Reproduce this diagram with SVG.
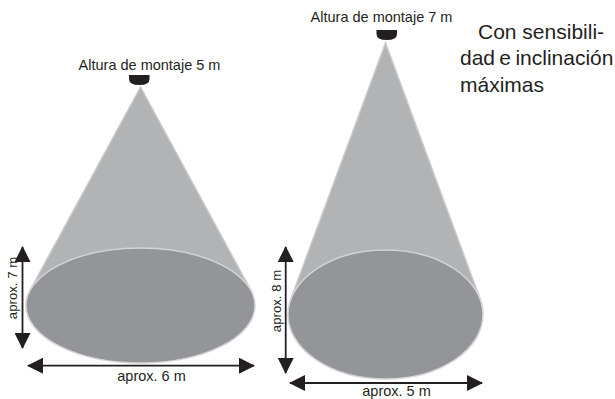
<svg xmlns="http://www.w3.org/2000/svg" width="615" height="399" viewBox="0 0 615 399">
<defs>
<marker id="ah" markerUnits="userSpaceOnUse" markerWidth="16" markerHeight="16" refX="15" refY="8" orient="auto-start-reverse" viewBox="0 0 16 16"><path d="M0 0L16 8L0 16Z" fill="#231f20"/></marker>
</defs>
<style>
.t{font-family:"Liberation Sans",Arial,sans-serif;font-size:14.500px;fill:#231f20}
.v{font-family:"Liberation Sans",Arial,sans-serif;font-size:13.200px;fill:#231f20}
.h{font-family:"Liberation Sans",Arial,sans-serif;font-size:21px;fill:#231f20}
.cone{fill:#b2b3b5;stroke:#c9cacb;stroke-width:1.5}
.base{fill:#939598;stroke:#d4d4d5;stroke-width:1.5}
.dev{fill:#231f20}
.dim{stroke:#231f20;stroke-width:1.8;fill:none;marker-start:url(#ah);marker-end:url(#ah)}
</style>
<rect width="615" height="399" fill="#fff"/>
<g id="cone-5m">
<path class="cone" d="M140.500 87L30 290.500L251 290.500Z"/>
<ellipse class="base" cx="140.500" cy="305.500" rx="114.500" ry="57.500"/>
<path class="dev" d="M129 75H149.500V79Q149.500 85 139.500 85Q129 85 129 79Z"/>
<text class="t" x="149.500" y="70" text-anchor="middle">Altura de montaje 5 m</text>
</g>
<g id="cone-7m">
<path class="cone" d="M385.500 43L290.800 299.200L480.200 299.200Z"/>
<ellipse class="base" cx="385.500" cy="314.500" rx="97.500" ry="64.500"/>
<path class="dev" d="M376.500 30H397V34Q397 40 386.500 40Q376.500 40 376.500 34Z"/>
<text class="t" x="381.500" y="22" text-anchor="middle">Altura de montaje 7 m</text>
</g>
<g id="connectors">
<line class="dim" x1="22.500" y1="247" x2="22.500" y2="348"/>
<line class="dim" x1="28" y1="365.700" x2="254" y2="365.700"/>
<line class="dim" x1="285.700" y1="247" x2="285.700" y2="373"/>
<line class="dim" x1="290" y1="383" x2="482" y2="383"/>
</g>
<g id="labels">
<text class="t" x="151.500" y="381" text-anchor="middle">aprox. 6 m</text>
<text class="t" x="396.500" y="395.500" text-anchor="middle">aprox. 5 m</text>
<text class="v" transform="translate(17 288) rotate(-90)" text-anchor="middle">aprox. 7 m</text>
<text class="v" transform="translate(280.500 301) rotate(-90)" text-anchor="middle">aprox. 8 m</text>
<text class="h" x="478" y="38.500">Con sensibili-</text>
<text class="h" x="460" y="65" word-spacing="-1.500">dad e inclinación</text>
<text class="h" x="460" y="91.700">máximas</text>
</g>
</svg>
